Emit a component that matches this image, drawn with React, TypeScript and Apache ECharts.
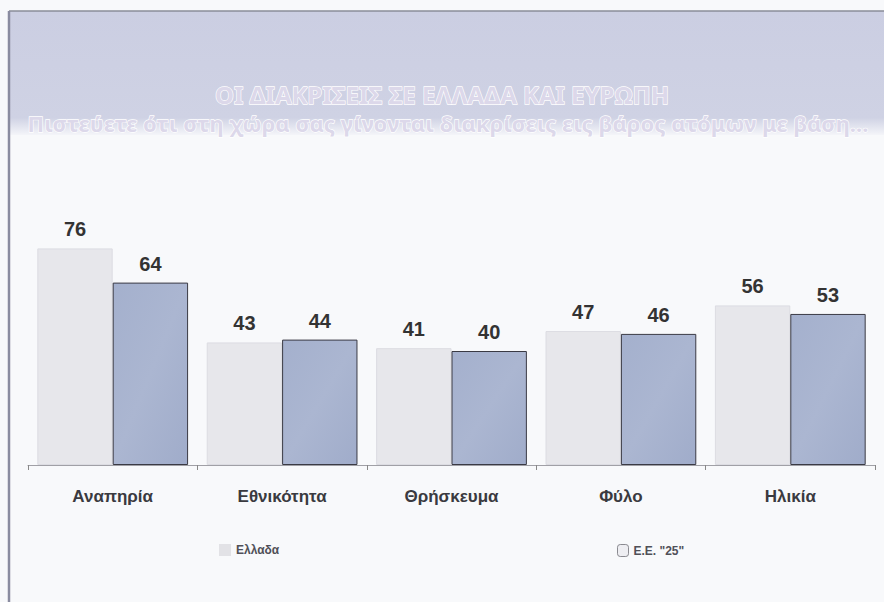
import React, { useEffect, useRef } from "react";
import * as echarts from "echarts";

const categories = ["Αναπηρία", "Εθνικότητα", "Θρήσκευμα", "Φύλο", "Ηλικία"];
const greeceValues = [76, 43, 41, 47, 56];
const euValues = [64, 44, 40, 46, 53];
const seriesNames = ["Ελλαδα", "Ε.Ε. \"25\""];
const titleText = "ΟΙ ΔΙΑΚΡΙΣΕΙΣ ΣΕ ΕΛΛΑΔΑ ΚΑΙ ΕΥΡΩΠΗ";
const subtitleText = "Πιστεύετε ότι στη χώρα σας γίνονται διακρίσεις εις βάρος ατόμων με βάση...";

export default function App() {
  const ref = useRef<HTMLDivElement>(null);
  useEffect(() => {
    const chart = echarts.init(ref.current!, null, { renderer: "svg" });
    const font = "'Liberation Sans', Arial, sans-serif";
    chart.setOption({
      animation: false,
      backgroundColor: "#f8f9fb",
      graphic: [
        {
          type: "rect",
          z: -10,
          shape: { x: 9, y: 11, width: 875, height: 124 },
          style: {
            fill: {
              type: "linear", x: 0, y: 0, x2: 0, y2: 1,
              colorStops: [
                { offset: 0, color: "#cbcee2" },
                { offset: 0.86, color: "#cfd2e4" },
                { offset: 1, color: "#f4f5f9" },
              ],
            },
          },
        },
        { type: "line", shape: { x1: 9, y1: 11, x2: 884, y2: 11 }, style: { stroke: "#8a8c98", lineWidth: 1.5 } },
        { type: "line", shape: { x1: 9, y1: 11, x2: 9, y2: 602 }, style: { stroke: "#8a8ca0", lineWidth: 2.5 } },
        {
          type: "text",
          x: 442, y: 94,
          style: {
            text: titleText,
            fill: "#dcd8ea", stroke: "#ffffff", lineWidth: 1.3,
            font: "bold 24px 'Noto Sans', sans-serif",
            lineHeight: 22,
            align: "center", verticalAlign: "middle",
          },
        },
        {
          type: "text",
          x: 448, y: 123,
          style: {
            text: subtitleText,
            fill: "#dcd8ea", stroke: "#ffffff", lineWidth: 1.3,
            font: "bold 22px 'Noto Sans', sans-serif",
            lineHeight: 20,
            align: "center", verticalAlign: "middle",
          },
        },
      ],
      legend: [
        {
          data: [{ name: seriesNames[0], itemStyle: { color: "#e2e2e6", borderWidth: 0 } }],
          left: 214, top: 539,
          icon: "rect", itemWidth: 12, itemHeight: 12, itemGap: 5,
          textStyle: { fontFamily: font, fontWeight: "bold", fontSize: 12, color: "#505058" },
        },
        {
          data: [{ name: seriesNames[1], itemStyle: { color: "#eeeef2", borderColor: "#8a8a90", borderWidth: 1 } }],
          left: 612, top: 539,
          icon: "roundRect", itemWidth: 11, itemHeight: 12, itemGap: 5,
          textStyle: { fontFamily: font, fontWeight: "bold", fontSize: 12, color: "#505058" },
        },
      ],
      grid: { left: 28, right: 9, top: 180, bottom: 137, containLabel: false },
      xAxis: {
        type: "category",
        data: categories,
        axisLine: { lineStyle: { color: "#a0a0a6", width: 1 } },
        axisTick: { show: true, length: 5, lineStyle: { color: "#888" } },
        axisLabel: { fontFamily: font, fontWeight: "bold", fontSize: 17, color: "#3a3a40", margin: 23 },
      },
      yAxis: { type: "value", min: 0, max: 100, show: false, splitLine: { show: false } },
      series: [
        {
          name: seriesNames[0],
          type: "bar",
          data: greeceValues,
          barGap: "0%",
          barCategoryGap: "11%",
          itemStyle: { color: "#e7e7eb", borderColor: "#dcdce2", borderWidth: 1 },
          label: { show: true, position: "top", distance: 9, fontFamily: font, fontWeight: "bold", fontSize: 20, color: "#333" },
        },
        {
          name: seriesNames[1],
          type: "bar",
          data: euValues,
          itemStyle: {
            color: {
              type: "linear", x: 0, y: 0, x2: 1, y2: 1,
              colorStops: [
                { offset: 0, color: "#a4b0cd" },
                { offset: 0.5, color: "#abb6d1" },
                { offset: 1, color: "#a0acca" },
              ],
            },
            borderColor: "#3a3a44",
            borderWidth: 1,
          },
          label: { show: true, position: "top", distance: 9, fontFamily: font, fontWeight: "bold", fontSize: 20, color: "#333" },
        },
      ],
    });
    return () => chart.dispose();
  }, []);
  return (
    <div
      ref={ref}
      style={{ position: "fixed", left: 0, top: 0, width: 884, height: 602 }}
    />
  );
}
